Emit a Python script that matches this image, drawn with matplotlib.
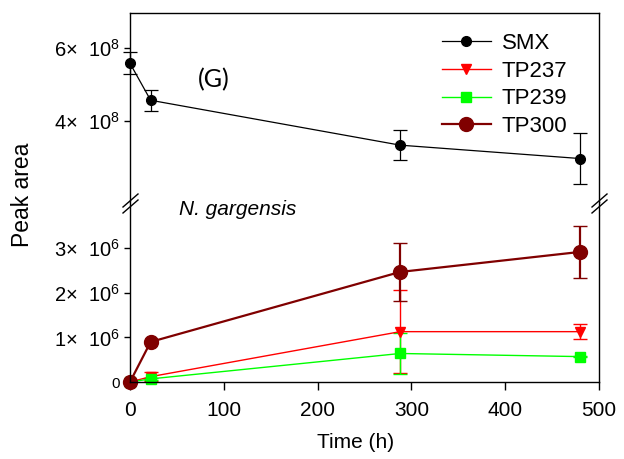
import matplotlib
matplotlib.use("Agg")
import matplotlib.pyplot as plt
from matplotlib.lines import Line2D

plt.rcParams['font.family'] = ['Liberation Sans', 'DejaVu Sans']
plt.rcParams['mathtext.fontset'] = 'custom'
plt.rcParams['mathtext.rm'] = 'Liberation Sans'
plt.rcParams['mathtext.it'] = 'Liberation Sans:italic'

# data
time_h = [0, 22, 288, 480]
smx = [5.58e8, 4.56e8, 3.32e8, 2.95e8]
smx_err = [0.30e8, 0.29e8, 0.42e8, 0.70e8]
tp237 = [0, 0.12e6, 1.13e6, 1.13e6]
tp237_err = [0, 0.10e6, 0.93e6, 0.17e6]
tp239 = [0, 0.07e6, 0.64e6, 0.57e6]
tp239_err = [0, 0.02e6, 0.46e6, 0.02e6]
tp300 = [0, 0.90e6, 2.47e6, 2.92e6]
tp300_err = [0, 0.0, 0.66e6, 0.58e6]

top_ticks = [4e8, 6e8]
top_labels = ['4\u00d7  10$^{8}$', '6\u00d7  10$^{8}$']
bot_ticks = [0, 1e6, 2e6, 3e6]
bot_labels = ['0', '1\u00d7  10$^{6}$', '2\u00d7  10$^{6}$', '3\u00d7  10$^{6}$']

W, H = 624, 459
fig = plt.figure(figsize=(W / 100, H / 100), dpi=100)


def px(x, y):
    return x / W, 1 - y / H


L, R, T, M, B = 130, 599, 13, 202, 382
ax_top = fig.add_axes([L / W, 1 - M / H, (R - L) / W, (M - T) / H])
ax_bot = fig.add_axes([L / W, 1 - B / H, (R - L) / W, (B - M) / H])

# top panel: SMX
ax_top.errorbar(time_h, smx, yerr=smx_err, color='black', marker='o', ms=7,
                lw=0.9, elinewidth=0.9, capsize=5, capthick=0.9, clip_on=False)

# bottom panel: transformation products
ax_bot.errorbar(time_h, tp237, yerr=tp237_err, color='red', marker='v', ms=7,
                lw=1, elinewidth=1, capsize=5, clip_on=False)
ax_bot.errorbar(time_h, tp239, yerr=tp239_err, color='#00ff00', marker='s', ms=6.5,
                lw=1, elinewidth=1, capsize=5, clip_on=False)
ax_bot.errorbar(time_h, tp300, yerr=tp300_err, color='#800000', marker='o', ms=10,
                lw=1.6, elinewidth=1.6, capsize=5, clip_on=False)

for ax in (ax_top, ax_bot):
    ax.set_xlim(0, 500)
    ax.tick_params(direction='out', length=4, width=1)
    ax.tick_params(axis='y', pad=3)
    for s in ax.spines.values():
        s.set_linewidth(1)

ax_top.set_ylim(1.75e8, 6.97e8)
ax_top.set_yticks(top_ticks)
ax_top.set_yticklabels(top_labels, fontsize=14.5)
ax_top.spines['bottom'].set_visible(False)
ax_top.tick_params(axis='x', bottom=False, labelbottom=False)

ax_bot.set_ylim(0, 4.04e6)
ax_bot.set_yticks(bot_ticks)
ax_bot.set_yticklabels(bot_labels, fontsize=14.5)
ax_bot.get_yticklabels()[0].set_fontsize(11)
ax_bot.spines['top'].set_visible(False)
ax_bot.set_xticks([0, 100, 200, 300, 400, 500])
ax_bot.tick_params(axis='x', labelsize=15, length=6, pad=8)

# break marks on both side spines
for xs in (L, R):
    for dy in (0, 6):
        x0, y0 = px(xs - 7, M + 5 + dy)
        x1, y1 = px(xs + 8, M - 8 + dy)
        fig.add_artist(Line2D([x0, x1], [y0, y1], color='black', lw=1))

handles = [Line2D([], [], color='black', marker='o', ms=7, lw=0.9),
           Line2D([], [], color='red', marker='v', ms=7, lw=1),
           Line2D([], [], color='#00ff00', marker='s', ms=6.5, lw=1),
           Line2D([], [], color='#800000', marker='o', ms=10, lw=1.6)]
ax_top.legend(handles, ['SMX', 'TP237', 'TP239', 'TP300'],
              loc='upper left', bbox_to_anchor=px(442, 33),
              bbox_transform=fig.transFigure, frameon=False, fontsize=16,
              borderpad=0, borderaxespad=0, handlelength=2.2,
              handletextpad=0.5, labelspacing=0.3, numpoints=1)

fig.text(*px(214, 80), '(G)', family=['Lato', 'DejaVu Sans'], fontsize=18,
         ha='center', va='center')
fig.text(*px(238, 210), 'N. gargensis', style='italic', fontsize=15,
         ha='center', va='center')
fig.text(*px(23, 195), 'Peak area', rotation=90, fontsize=16.5,
         ha='center', va='center')
fig.text(*px(356, 443), 'Time (h)', fontsize=15, ha='center', va='center')

fig.savefig('out.png', dpi=100)
